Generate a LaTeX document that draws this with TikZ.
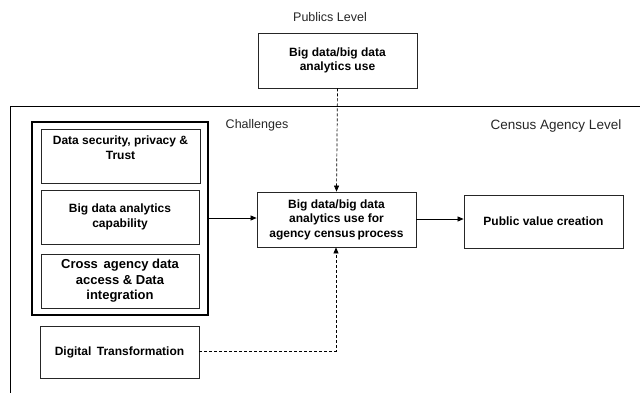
\documentclass[tikz,border=0pt]{standalone}
\usepackage{fontspec}
\setmainfont{Liberation Sans}
\usetikzlibrary{arrows.meta}
\begin{document}
\begin{tikzpicture}[x=1pt,y=-1pt,
  bx/.style={draw=black!85,line width=0.8pt,font=\fontsize{12}{14.5}\selectfont\bfseries,align=center,inner sep=0pt},
  txt/.style={font=\fontsize{12}{14.5}\selectfont\bfseries,align=center,inner sep=0pt},
  lbl/.style={font=\fontsize{12.5}{14}\selectfont,text=black!85,inner sep=0pt},
  arr/.style={-{Triangle[length=6pt,width=5pt]},line width=0.7pt},
  dsh/.style={dashed,dash pattern=on 3pt off 2pt,line width=0.7pt}]
\useasboundingbox (0,0) rectangle (640,392);
% outer frame (open to right and bottom)
\draw[line width=0.9pt] (10,400) -- (10,106) -- (645,106);
% texts
\node[lbl] (publics) at (330,17) {Publics Level};
\node[lbl] (chal) at (257,125) {Challenges};
\node[lbl,font=\fontsize{13.5}{15}\selectfont] (census) at (556,126) {Census Agency Level};
% boxes
\node[bx,minimum width=159pt,minimum height=55pt] (top) at (337.5,60.5) {Big data/big data\\analytics use};
\node[bx,minimum width=176pt,minimum height=193pt,draw=black,line width=2.6pt] (thick) at (120,218.5) {};
\node[bx,minimum width=159pt,minimum height=54pt,anchor=north] (b1) at (120.5,129) {};
\node[txt,anchor=north] (b1t) at (120.5,136) {Data security, privacy \&\\Trust};
\node[bx,minimum width=158pt,minimum height=54pt] (b2) at (120,217) {Big data analytics\\capability};
\node[bx,minimum width=158pt,minimum height=54pt,font=\fontsize{13}{15.5}\selectfont\bfseries] (b3) at (120,281) {Cross\, agency data\\access \& Data\\integration};
\node[bx,minimum width=159pt,minimum height=52pt] (dt) at (119.5,352) {Digital\, Transformation};
\node[bx,minimum width=159pt,minimum height=55pt] (mid) at (336.5,219.5) {Big data/big data\\analytics use for\\agency census\,process};
\node[bx,minimum width=159pt,minimum height=53pt] (pv) at (543.5,221.5) {Public value creation};
% connectors
\draw[arr] (thick.east |- 0,218) -- (mid.west |- 0,218);
\draw[arr] (mid.east |- 0,219) -- (pv.west |- 0,219);
\draw[dsh,arr] (top.south) -- (mid.north);
\coordinate (corner) at (336,351);
\draw[dsh,arr] (dt.east |- corner) -- (corner) -- (mid.south -| corner);
\end{tikzpicture}
\end{document}
